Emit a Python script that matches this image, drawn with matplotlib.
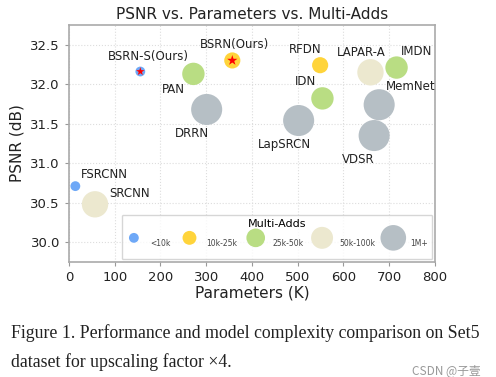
import matplotlib
matplotlib.use('Agg')
import matplotlib.pyplot as plt

# data
models = ['BSRN-S(Ours)', 'BSRN(Ours)', 'PAN', 'DRRN', 'RFDN', 'IDN', 'LapSRCN',
          'LAPAR-A', 'IMDN', 'MemNet', 'VDSR', 'FSRCNN', 'SRCNN']
params = [156, 357, 272, 301, 549, 554, 502, 659, 716, 678, 667, 14, 57]
psnr = [32.16, 32.30, 32.13, 31.68, 32.24, 31.82, 31.54, 32.15, 32.21, 31.74, 31.35, 30.71, 30.48]
# multi-adds class index into the groups below
madd_group = [0, 1, 2, 4, 1, 2, 4, 3, 2, 4, 4, 0, 3]
ours = ['BSRN-S(Ours)', 'BSRN(Ours)']

group_labels = ['<10k', '10k-25k', '25k-50k', '50k-100k', '1M+']
group_colors = ['#6ea8f7', '#ffd43b', '#b9dd83', '#ece8cf', '#b6bfc5']
group_sizes = [50, 135, 260, 360, 500]
legend_sizes = [50, 100, 180, 250, 340]

# label offsets (points) from each bubble
offsets = {
    'BSRN-S(Ours)': (6, 11), 'BSRN(Ours)': (1.5, 11.5), 'PAN': (-14.5, -11.5),
    'DRRN': (-10.5, -17), 'RFDN': (-11, 11.3), 'IDN': (-12.5, 12.2),
    'LapSRCN': (-10, -17), 'LAPAR-A': (-6.3, 14), 'IMDN': (14.6, 11.5),
    'MemNet': (23, 13), 'VDSR': (-11.5, -17), 'FSRCNN': (20.6, 8.4), 'SRCNN': (25, 8),
}

fig = plt.figure(figsize=(4.96, 3.77), dpi=100)
ax = fig.add_axes([0.139, 0.305, 0.738, 0.629])

for m, x, y, g in zip(models, params, psnr, madd_group):
    ax.scatter(x, y, s=group_sizes[g], color=group_colors[g], edgecolors='none', zorder=3)
    if m in ours:
        ax.scatter(x, y, s=max(group_sizes[g] * 0.45, 40), marker='*', color='red',
                   edgecolors='none', zorder=4)
    ax.annotate(m, (x, y), xytext=offsets[m], textcoords='offset points',
                ha='center', va='center', fontsize=8.5, color='#222222')

ax.set_xlim(0, 800)
ax.set_ylim(29.75, 32.75)
ax.set_xticks([0, 100, 200, 300, 400, 500, 600, 700, 800])
ax.set_yticks([30.0, 30.5, 31.0, 31.5, 32.0, 32.5])
ax.tick_params(labelsize=9.5, length=3, color='#999999', labelcolor='#222222')
ax.grid(True, linestyle=':', color='#dddddd', linewidth=0.8)
ax.set_axisbelow(True)
for sp in ax.spines.values():
    sp.set_color('#aaaaaa')
    sp.set_linewidth(1.2)

ax.set_title('PSNR vs. Parameters vs. Multi-Adds', fontsize=11, color='#222222', pad=4)
ax.set_xlabel('Parameters (K)', fontsize=11, color='#222222', labelpad=1)
ax.set_ylabel('PSNR (dB)', fontsize=11, color='#222222', labelpad=4)

handles = [ax.scatter([], [], s=legend_sizes[i], color=group_colors[i], edgecolors='none')
           for i in range(len(group_labels))]
leg = ax.legend(handles, group_labels, ncol=5, fontsize=5.5, title='Multi-Adds',
                title_fontsize=8, bbox_to_anchor=(0.144, 0.011, 0.849, 0.2), mode='expand',
                loc='lower left', handletextpad=1.2, handleheight=4, borderaxespad=0,
                frameon=True, edgecolor='#cccccc', fancybox=True, borderpad=0.6)
for t in leg.get_texts():
    t.set_color('#444444')

fig.text(0.022, 0.117, 'Figure 1. Performance and model complexity comparison on Set5',
         family='Liberation Serif', fontsize=12.8, va='center', color='#222222')
fig.text(0.022, 0.040, 'dataset for upscaling factor \u00d74.',
         family='Liberation Serif', fontsize=12.8, va='center', color='#222222')
fig.text(0.968, 0.016, 'CSDN @子壹', family=['Noto Sans CJK SC', 'DejaVu Sans'],
         fontsize=8.5, color='#999999', ha='right', va='center')

fig.savefig('out.png', dpi=100)
